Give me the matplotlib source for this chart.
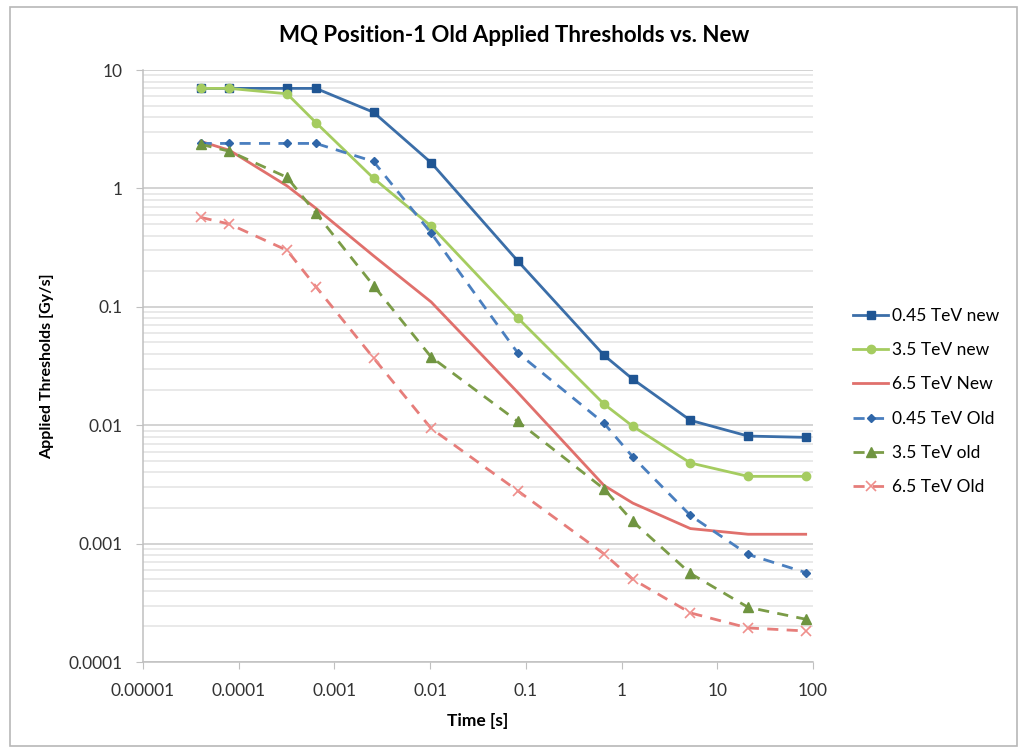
import matplotlib
matplotlib.use("Agg")
import matplotlib.pyplot as plt
import matplotlib.ticker as mticker
from matplotlib.patches import Rectangle

plt.rcParams['font.family'] = ['Lato', 'DejaVu Sans']

# running sum times [s]
t = [4e-5, 8e-5, 3.2e-4, 6.4e-4, 2.56e-3, 1.024e-2, 8.192e-2, 0.655, 1.31, 5.24, 20.97, 83.89]

new_045 = [7.0, 7.0, 7.0, 7.0, 4.4, 1.65, 0.245, 0.039, 0.0245, 0.011, 0.0081, 0.0079]
new_35 = [7.0, 7.0, 6.3, 3.6, 1.22, 0.48, 0.081, 0.0151, 0.0098, 0.0048, 0.0037, 0.0037]
new_65 = [2.5, 2.1, 1.05, 0.68, 0.27, 0.11, 0.019, 0.0031, 0.0022, 0.00134, 0.0012, 0.0012]
old_045 = [2.4, 2.4, 2.4, 2.4, 1.69, 0.42, 0.041, 0.0104, 0.0054, 0.00173, 0.00081, 0.00057]
old_35 = [2.36, 2.06, 1.24, 0.62, 0.151, 0.0377, 0.0108, 0.0029, 0.00154, 0.00056, 0.00029, 0.00023]
old_65 = [0.57, 0.50, 0.30, 0.148, 0.037, 0.0094, 0.0028, 0.00082, 0.0005, 0.00026, 0.000194, 0.000183]

fig = plt.figure(figsize=(10.18, 7.5), dpi=100)
ax = fig.add_axes([0.1405, 0.1173, 0.6581, 0.7893])

# outer chart border
fig.patches.append(Rectangle((10/1018, 4/750), 1007/1018, 739/750, transform=fig.transFigure,
                             fill=False, edgecolor='#b8b8b8', linewidth=1.2))

ax.plot(t, new_045, color='#3b6ea8', lw=2, marker='s', ms=6, mfc='#1f5593', mec='#1f5593', label='0.45 TeV new')
ax.plot(t, new_35, color='#a5cc60', lw=2, marker='o', ms=6, mfc='#a5cc60', mec='#a5cc60', label='3.5 TeV new')
ax.plot(t, new_65, color='#e0706c', lw=2, label='6.5 TeV New')
ax.plot(t, old_045, color='#4a7fbf', lw=2, ls=(0, (4, 3)), marker='D', ms=4.5, mfc='#2f66a8', mec='#2f66a8', label='0.45 TeV Old')
ax.plot(t, old_35, color='#7b9c47', lw=2, ls=(0, (4, 3)), marker='^', ms=6.5, mfc='#6f9440', mec='#6f9440', label='3.5 TeV old')
ax.plot(t, old_65, color='#e67d7a', lw=2, ls=(0, (4, 3)), marker='x', ms=7, mew=1.2, mec='#ef8f8c', label='6.5 TeV Old')

ax.set_xscale('log')
ax.set_yscale('log')
ax.set_xlim(1e-5, 100)
ax.set_ylim(1e-4, 10)

xt = [1e-5, 1e-4, 1e-3, 1e-2, 1e-1, 1, 10, 100]
xl = ['0.00001', '0.0001', '0.001', '0.01', '0.1', '1', '10', '100']
yt = [1e-4, 1e-3, 1e-2, 1e-1, 1, 10]
yl = ['0.0001', '0.001', '0.01', '0.1', '1', '10']
ax.set_xticks(xt)
ax.set_xticklabels(xl)
ax.set_yticks(yt)
ax.set_yticklabels(yl)
ax.xaxis.set_minor_locator(mticker.NullLocator())
ax.yaxis.set_minor_locator(mticker.LogLocator(base=10, subs=range(2, 10), numticks=20))
ax.yaxis.set_minor_formatter(mticker.NullFormatter())

ax.grid(True, axis='y', which='major', color='#c8c8c8', lw=1.1)
ax.grid(True, axis='y', which='minor', color='#e3e3e3', lw=1.1)
ax.set_axisbelow(True)
ax.tick_params(axis='y', which='minor', length=0)
ax.tick_params(axis='both', which='major', length=5, color='#c0c0c0', labelsize=12.5, labelcolor='#333333')
ax.tick_params(axis='y', pad=10)
ax.tick_params(axis='x', pad=10)

for s in ['top', 'right']:
    ax.spines[s].set_visible(False)
for s in ['left', 'bottom']:
    ax.spines[s].set_color('#c0c0c0')
    ax.spines[s].set_linewidth(1.1)

# title is centred on the whole chart, not the plot area
ax.set_title('MQ Position-1 Old Applied Thresholds vs. New', fontsize=16, fontweight='bold', pad=20, x=0.554)
ax.set_xlabel('Time [s]', fontsize=12.5, fontweight='bold', labelpad=10)
ax.set_ylabel('Applied Thresholds [Gy/s]', fontsize=11.5, fontweight='bold', labelpad=10)

leg = ax.legend(loc='center left', bbox_to_anchor=(1.05, 0.44), frameon=False, fontsize=12.5,
                handlelength=2.0, handletextpad=0.2, labelspacing=1.05, borderaxespad=0)

fig.savefig('out.png', dpi=100)
